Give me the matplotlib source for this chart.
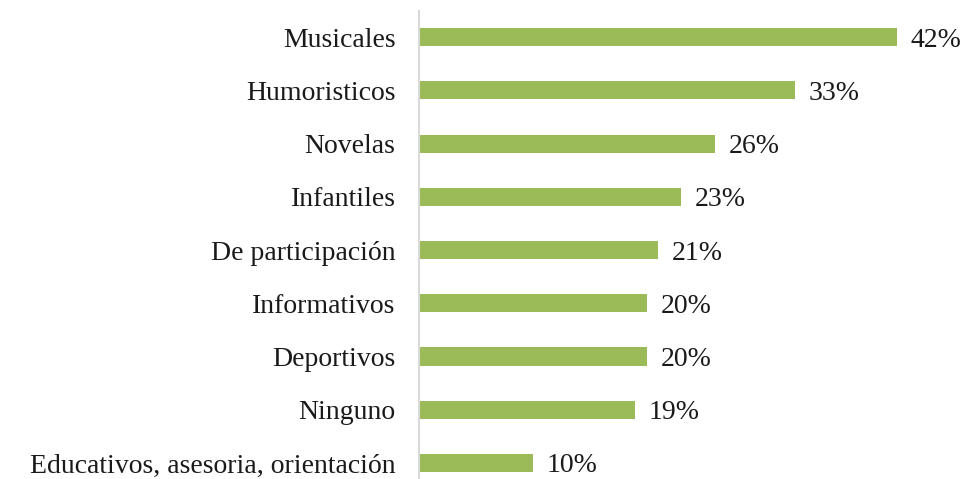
import matplotlib.pyplot as plt

categorias = ['Musicales', 'Humoristicos', 'Novelas', 'Infantiles', 'De participación',
              'Informativos', 'Deportivos', 'Ninguno', 'Educativos, asesoria, orientación']
porcentajes = [42, 33, 26, 23, 21, 20, 20, 19, 10]

plt.rcParams['font.family'] = ['Liberation Serif', 'DejaVu Serif']

fig = plt.figure(figsize=(9.68, 4.79), dpi=100)
ax = fig.add_axes([0.433, -0.022, 0.529, 1.0])

posiciones = list(range(len(categorias)))
ax.barh(posiciones, porcentajes, height=0.34, color='#9BBB59')
ax.set_ylim(len(categorias) - 0.5, -0.5)
ax.set_xlim(0, 45)
ax.set_yticks(posiciones)
ax.set_yticklabels(categorias, fontsize=20, color='#1a1a1a')
ax.tick_params(axis='y', length=0, pad=17)
ax.set_xticks([])

for y, v in zip(posiciones, porcentajes):
    ax.text(v + 1.2, y, f'{v}%', va='center_baseline', ha='left', fontsize=20, color='#1a1a1a')

for lado in ['top', 'right', 'bottom']:
    ax.spines[lado].set_visible(False)
ax.spines['left'].set_color('#d9d9d9')
ax.spines['left'].set_linewidth(1.5)

fig.savefig('out.png', dpi=100)
